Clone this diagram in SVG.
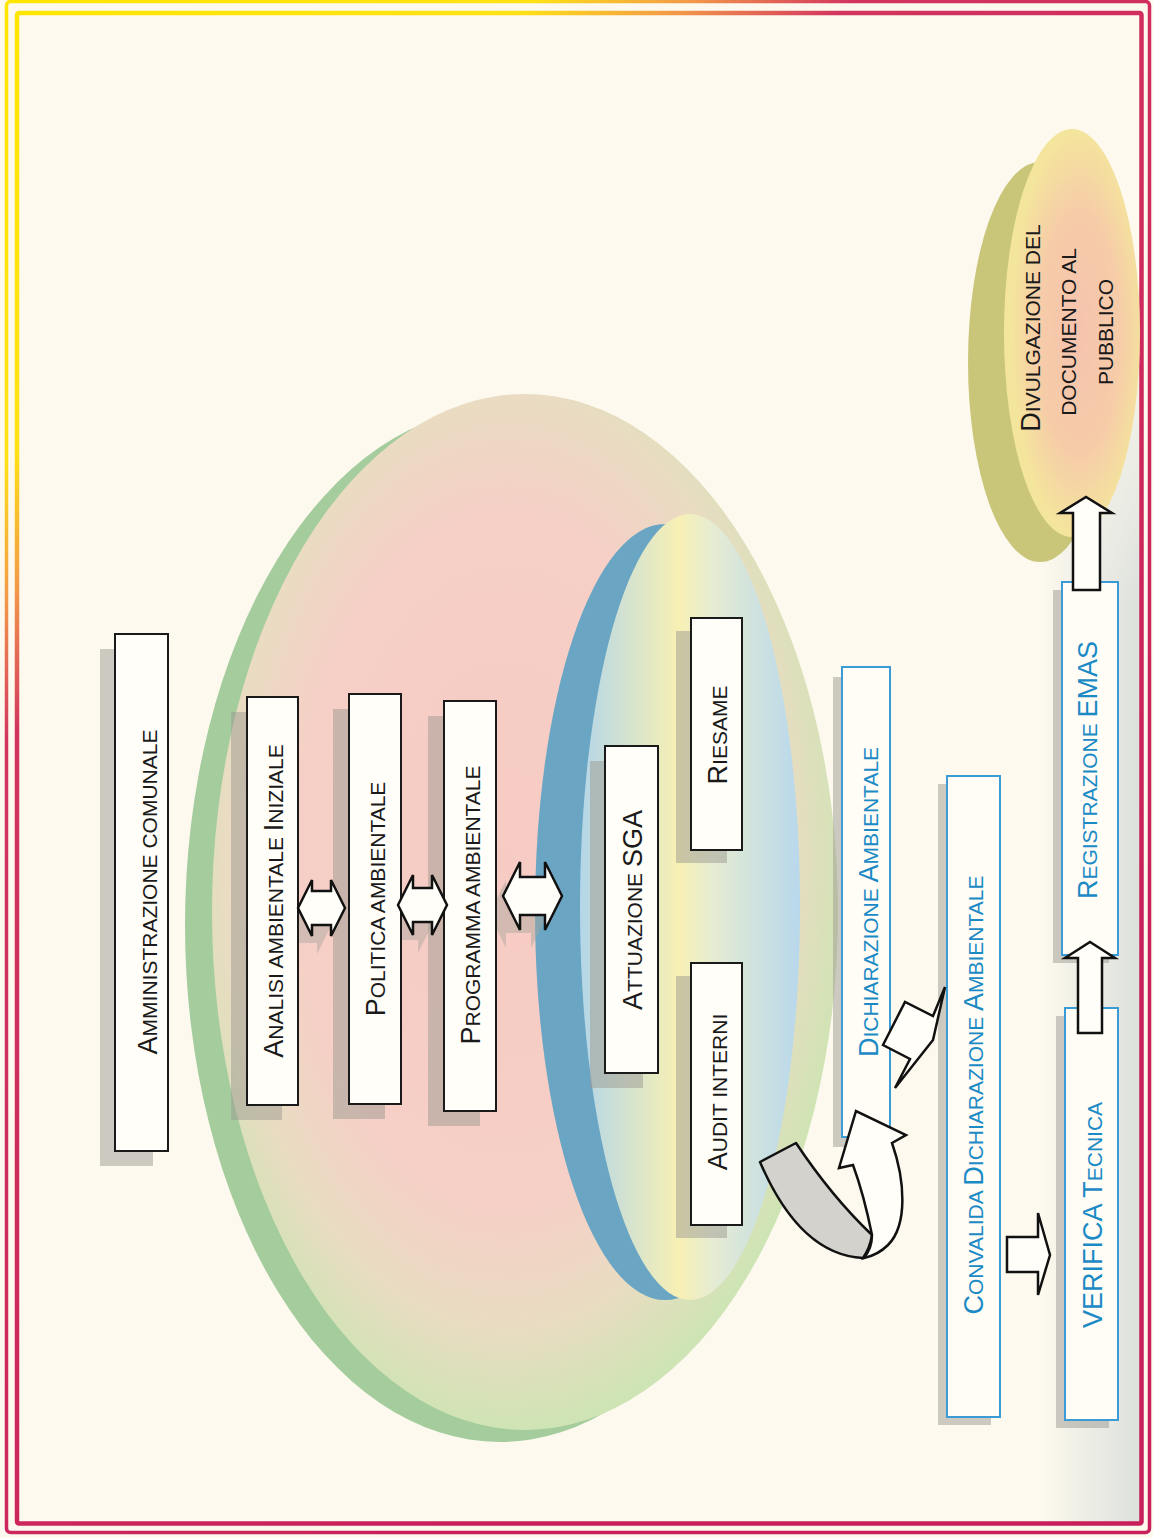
<svg xmlns="http://www.w3.org/2000/svg" width="1153" height="1538" viewBox="0 0 1153 1538">
<defs>
 <linearGradient id="frame" gradientUnits="userSpaceOnUse" x1="0" y1="0" x2="1000" y2="1144">
  <stop offset="0" stop-color="#ffe600"/>
  <stop offset="0.23" stop-color="#ffe214"/>
  <stop offset="0.30" stop-color="#f2984a"/>
  <stop offset="0.37" stop-color="#d2335f"/>
  <stop offset="1" stop-color="#c81e5a"/>
 </linearGradient>
 <linearGradient id="strip" x1="0" y1="0" x2="1" y2="0">
  <stop offset="0" stop-color="#c5d0cf" stop-opacity="0"/>
  <stop offset="1" stop-color="#c5d0cf" stop-opacity="0.6"/>
 </linearGradient>
 <linearGradient id="fadeV" x1="0" y1="0" x2="0" y2="1">
  <stop offset="0" stop-color="#fff" stop-opacity="0"/>
  <stop offset="0.25" stop-color="#fff" stop-opacity="1"/>
  <stop offset="1" stop-color="#fff" stop-opacity="1"/>
 </linearGradient>
 <mask id="stripMask" maskUnits="userSpaceOnUse" x="1040" y="300" width="110" height="1230">
  <rect x="1040" y="300" width="110" height="1230" fill="url(#fadeV)"/>
 </mask>
 <radialGradient id="bigG" cx="0.47" cy="0.45" r="0.55">
  <stop offset="0" stop-color="#f6cbc4"/>
  <stop offset="0.6" stop-color="#f6cfc6"/>
  <stop offset="0.82" stop-color="#e9dcc2"/>
  <stop offset="1" stop-color="#cfe4b4"/>
 </radialGradient>
 <linearGradient id="innerG" x1="0" y1="0" x2="1" y2="0">
  <stop offset="0" stop-color="#b4d6e8"/>
  <stop offset="0.45" stop-color="#f8f0b4"/>
  <stop offset="0.6" stop-color="#e6ecd2"/>
  <stop offset="1" stop-color="#b8d8ec"/>
 </linearGradient>
 <radialGradient id="divG" cx="0.55" cy="0.5" r="0.5">
  <stop offset="0" stop-color="#f6c3ae"/>
  <stop offset="0.6" stop-color="#f6cca8"/>
  <stop offset="1" stop-color="#f4e59c"/>
 </radialGradient>
 <style>
  .frame{fill:none;stroke:url(#frame)}
  .box{fill:#fffef8;stroke:#1a1a1a;stroke-width:2}
  .bbox{fill:#fffdf6;stroke:#3b9bd6;stroke-width:2}
  .sh{fill:#9c9a92;opacity:0.5}
  .ash{fill:#a9a59c;opacity:0.45}
  .arr{fill:#fffef8;stroke:#111;stroke-width:2.5;stroke-linejoin:miter}
  .t{font-family:"Liberation Sans",Arial,Helvetica,sans-serif;font-size:21px;fill:#1a1a1a}
  .blue{fill:#1b8ac5}
  .L{font-size:27px}
 </style>
</defs>

<rect x="0" y="0" width="1153" height="1538" fill="#fdf9ee"/>
<rect x="1040" y="300" width="102" height="1223" fill="url(#strip)" mask="url(#stripMask)"/>

<g id="frame-lines">
 <rect class="frame" x="6.5" y="1.5" width="1143" height="1531" rx="4" stroke-width="3.5"/>
 <rect class="frame" x="17" y="13" width="1124.5" height="1510.5" rx="2" stroke-width="4.5"/>
</g>

<g id="ellipse-sga-cycle">
 <ellipse cx="500" cy="925" rx="315" ry="517" fill="#a4cc9c"/>
 <ellipse cx="525" cy="912" rx="313" ry="518" fill="url(#bigG)"/>
</g>
<g id="ellipse-inner">
 <ellipse cx="665" cy="912" rx="130" ry="388" fill="#6aa6c4"/>
 <ellipse cx="690" cy="907" rx="110" ry="393" fill="url(#innerG)"/>
</g>
<g id="ellipse-divulgazione">
 <ellipse cx="1040" cy="362" rx="72" ry="200" fill="#c9c67a"/>
 <ellipse cx="1072" cy="333" rx="68" ry="204" fill="url(#divG)"/>
 <text class="t" text-anchor="middle" transform="translate(1040,328) rotate(-90)"><tspan class="L">D</tspan>IVULGAZIONE DEL</text>
 <text class="t" text-anchor="middle" transform="translate(1076,332) rotate(-90)">DOCUMENTO AL</text>
 <text class="t" text-anchor="middle" transform="translate(1113,332) rotate(-90)">PUBBLICO</text>
</g>

<g id="connectors">
 <g transform="translate(-14,18)">
  <path class="ash" d="M298,908 L312,880 L312,891 L331,891 L331,880 L345,908 L331,936 L331,925 L312,925 L312,936 Z"/>
  <path class="ash" d="M398,905 L413,875 L413,888 L432,888 L432,875 L447,905 L432,935 L432,922 L413,922 L413,935 Z"/>
  <path class="ash" d="M503,896 L520,862 L520,877 L545,877 L545,862 L562,896 L545,930 L545,915 L520,915 L520,930 Z"/>
 </g>
</g>

<g id="node-amministrazione">
 <rect class="sh" x="100" y="649" width="53" height="517"/>
 <rect class="box" x="115" y="634" width="53" height="517"/>
 <text class="t" text-anchor="middle" transform="translate(157,892) rotate(-90)"><tspan class="L">A</tspan>MMINISTRAZIONE COMUNALE</text>
</g>
<g id="node-analisi">
 <rect class="sh" x="231" y="712" width="51" height="408"/>
 <rect class="box" x="247" y="697" width="51" height="408"/>
 <text class="t" text-anchor="middle" transform="translate(283,901) rotate(-90)"><tspan class="L">A</tspan>NALISI AMBIENTALE <tspan class="L">I</tspan>NIZIALE</text>
</g>
<g id="node-politica">
 <rect class="sh" x="333" y="709" width="52" height="410"/>
 <rect class="box" x="349" y="694" width="52" height="410"/>
 <text class="t" text-anchor="middle" transform="translate(385,899) rotate(-90)"><tspan class="L">P</tspan>OLITICA AMBIENTALE</text>
</g>
<g id="node-programma">
 <rect class="sh" x="428" y="716" width="52" height="410"/>
 <rect class="box" x="444" y="701" width="52" height="410"/>
 <text class="t" text-anchor="middle" transform="translate(480,905) rotate(-90)"><tspan class="L">P</tspan>ROGRAMMA AMBIENTALE</text>
</g>
<g id="node-attuazione">
 <rect class="sh" x="590" y="761" width="53" height="327"/>
 <rect class="box" x="605" y="746" width="53" height="327"/>
 <text class="t" text-anchor="middle" transform="translate(642,910) rotate(-90)"><tspan class="L">A</tspan>TTUAZIONE <tspan class="L">SGA</tspan></text>
</g>
<g id="node-riesame">
 <rect class="sh" x="676" y="631" width="51" height="232"/>
 <rect class="box" x="691" y="618" width="51" height="232"/>
 <text class="t" text-anchor="middle" transform="translate(727,735) rotate(-90)"><tspan class="L">R</tspan>IESAME</text>
</g>
<g id="node-audit">
 <rect class="sh" x="676" y="976" width="51" height="262"/>
 <rect class="box" x="691" y="963" width="51" height="262"/>
 <text class="t" text-anchor="middle" transform="translate(727,1092) rotate(-90)"><tspan class="L">A</tspan>UDIT INTERNI</text>
</g>

<g id="node-dichiarazione">
 <rect class="sh" x="833" y="677" width="48" height="470"/>
 <rect class="bbox" x="842" y="667" width="48" height="470"/>
 <text class="t blue" text-anchor="middle" transform="translate(878,902) rotate(-90)"><tspan class="L">D</tspan>ICHIARAZIONE <tspan class="L">A</tspan>MBIENTALE</text>
</g>
<g id="node-convalida">
 <rect class="sh" x="938" y="784" width="53" height="641"/>
 <rect class="bbox" x="947" y="776" width="53" height="641"/>
 <text class="t blue" text-anchor="middle" transform="translate(983,1095) rotate(-90)"><tspan class="L">C</tspan>ONVALIDA <tspan class="L">D</tspan>ICHIARAZIONE <tspan class="L">A</tspan>MBIENTALE</text>
</g>
<g id="node-verifica">
 <rect class="sh" x="1056" y="1016" width="53" height="412"/>
 <rect class="bbox" x="1065" y="1008" width="53" height="412"/>
 <text class="t blue" text-anchor="middle" transform="translate(1102,1215) rotate(-90)"><tspan class="L">VERIFICA</tspan> <tspan class="L">T</tspan>ECNICA</text>
</g>
<g id="node-registrazione">
 <rect class="sh" x="1053" y="590" width="56" height="373"/>
 <rect class="bbox" x="1062" y="582" width="56" height="373"/>
 <text class="t blue" text-anchor="middle" transform="translate(1097,770) rotate(-90)"><tspan class="L">R</tspan>EGISTRAZIONE <tspan class="L">EMAS</tspan></text>
</g>

<g id="connectors-front">
 <path class="arr" d="M298,908 L312,880 L312,891 L331,891 L331,880 L345,908 L331,936 L331,925 L312,925 L312,936 Z"/>
 <path class="arr" d="M398,905 L413,875 L413,888 L432,888 L432,875 L447,905 L432,935 L432,922 L413,922 L413,935 Z"/>
 <path class="arr" d="M503,896 L520,862 L520,877 L545,877 L545,862 L562,896 L545,930 L545,915 L520,915 L520,930 Z"/>
 <path d="M760,1162 L796,1143 Q832,1197 872,1235 Q870,1248 863,1258 Q800,1255 760,1162 Z" fill="#d4d2cc" stroke="#111" stroke-width="2.5" stroke-linejoin="round"/>
 <path class="arr" d="M872,1235 Q864,1195 853,1165 L839,1168 L856,1111 L906,1135 L892,1143 C905,1180 908,1225 888,1245 Q878,1255 864,1258 Q872,1248 872,1235 Z"/>
 <path class="arr" d="M883,1045 L905,1002 L933,1016 L945,987 L933,1040 L895,1088 L910,1059 Z"/>
 <path class="arr" d="M1007,1237 L1038,1237 L1038,1213 L1050,1255 L1038,1295 L1038,1272 L1007,1272 Z"/>
 <path class="arr" d="M1078,1033 L1078,958 L1065,958 L1090,942 L1115,958 L1102,958 L1102,1033 Z"/>
 <path class="arr" d="M1073,590 L1073,513 L1060,513 L1086,497 L1112,513 L1100,513 L1100,590 Z"/>
</g>
</svg>
